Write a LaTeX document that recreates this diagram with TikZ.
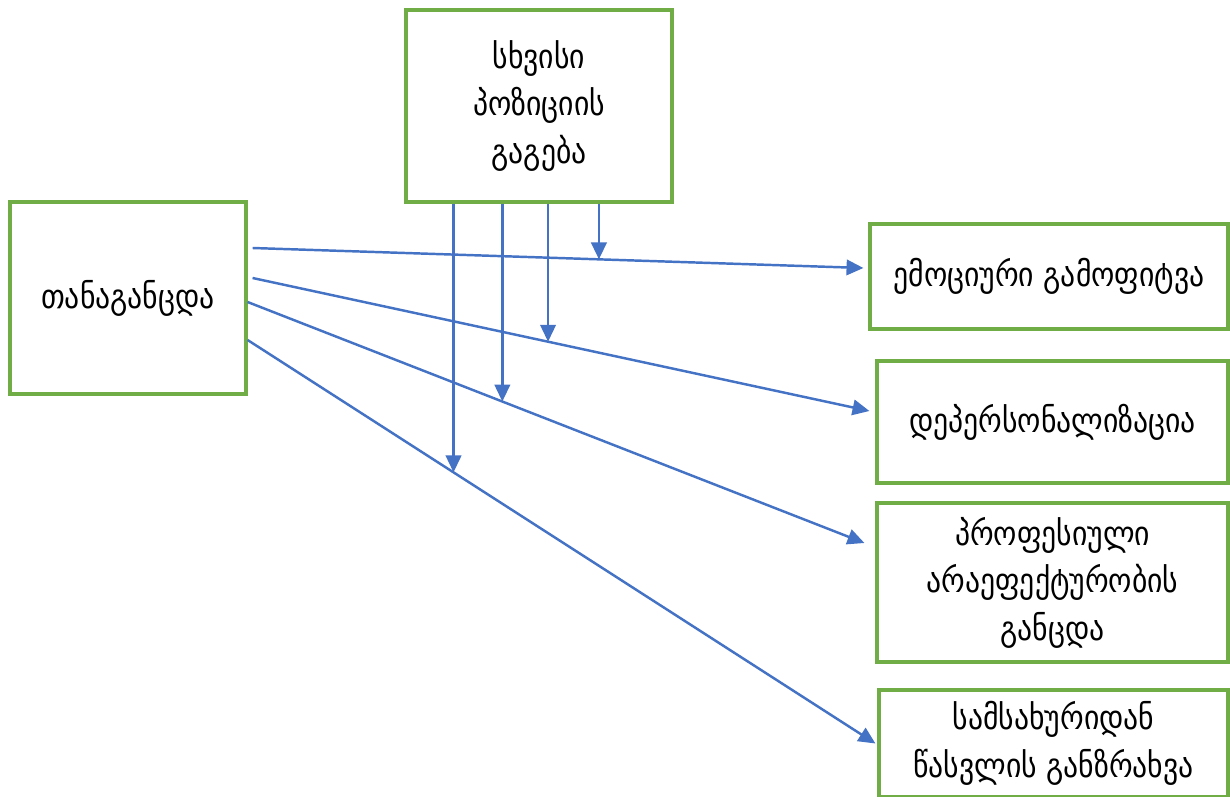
\documentclass[tikz,border=0pt]{standalone}
\usepackage{fontspec}
\setmainfont[FakeStretch=0.88]{DejaVu Sans}
\usetikzlibrary{arrows.meta, positioning}
\definecolor{boxgreen}{RGB}{112,173,71}
\definecolor{arrblue}{RGB}{68,114,196}
\tikzset{
  factor/.style={draw=boxgreen, line width=0.9pt, align=center, inner sep=0pt,
    font=\fontsize{9.6pt}{13.5pt}\selectfont},
  arr/.style={draw=arrblue, line width=0.7pt, -{Triangle[length=4.8pt,width=4.4pt]}}
}
\begin{document}
\begin{tikzpicture}[]
\useasboundingbox (0,0) rectangle (12.3,-7.97);
\node[factor, minimum width=2.66cm, minimum height=1.92cm] (sp) at (5.39,-1.06) {სხვისი\\პოზიციის\\გაგება};
\node[factor, minimum width=2.36cm, minimum height=1.92cm] (tg) at (1.28,-2.98) {თანაგანცდა};
\node[factor, minimum width=3.58cm, minimum height=1.05cm] (emo) at (10.49,-2.765) {ემოციური გამოფიტვა};
\node[factor, minimum width=3.51cm, minimum height=1.22cm] (dep) at (10.525,-4.22) {დეპერსონალიზაცია};
\node[factor, minimum width=3.51cm, minimum height=1.59cm] (prof) at (10.525,-5.825) {პროფესიული\\არაეფექტურობის\\განცდა};
\node[factor, minimum width=3.49cm, minimum height=1.07cm] (sam) at (10.535,-7.435) {სამსახურიდან\\წასვლის განზრახვა};
\draw[arr] ([shift={(0.05,0.5)}]tg.east) -- coordinate[pos=0.567] (m1) ([shift={(-0.05,0.085)}]emo.west);
\draw[arr] ([shift={(0.05,0.2)}]tg.east) -- coordinate[pos=0.479] (m2) ([shift={(-0.06,0.11)}]dep.west);
\draw[arr] ([shift={(0,-0.04)}]tg.east) -- coordinate[pos=0.413] (m3) ([shift={(-0.11,0.395)}]prof.west);
\draw[arr] ([shift={(0,-0.42)}]tg.east) -- coordinate[pos=0.328] (m4) ([shift={(-0.02,0)}]sam.west);
\draw[arr] (sp.south -| m1) -- (m1);
\draw[arr] (sp.south -| m2) -- (m2);
\draw[arr] (sp.south -| m3) -- (m3);
\draw[arr] (sp.south -| m4) -- (m4);
\end{tikzpicture}
\end{document}
